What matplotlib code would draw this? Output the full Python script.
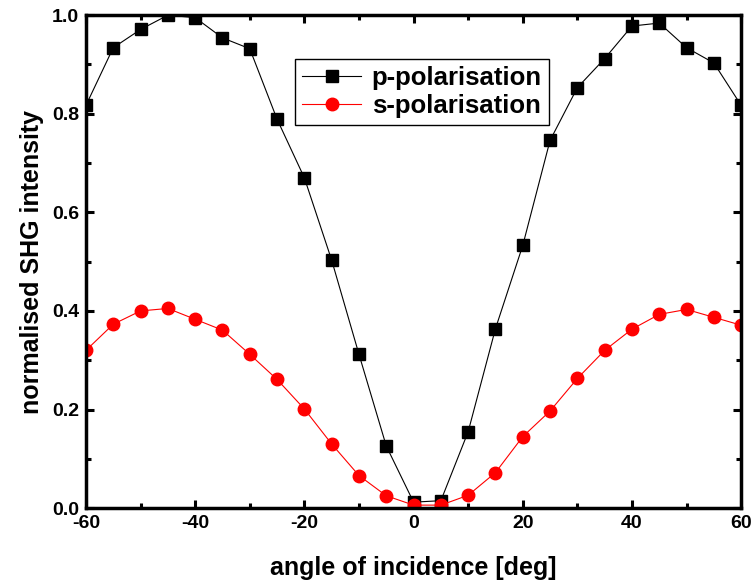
import matplotlib
matplotlib.use("Agg")
import matplotlib.pyplot as plt
from matplotlib.ticker import MultipleLocator

plt.rcParams['font.family'] = ['Liberation Sans', 'DejaVu Sans']
plt.rcParams['font.weight'] = 'bold'

# angle of incidence in degrees
angles = [-60, -55, -50, -45, -40, -35, -30, -25, -20, -15, -10, -5,
          0, 5, 10, 15, 20, 25, 30, 35, 40, 45, 50, 55, 60]

# normalised SHG intensity, p-polarised input
p_pol = [0.817, 0.934, 0.971, 1.000, 0.995, 0.954, 0.932, 0.789, 0.670, 0.503,
         0.312, 0.126, 0.012, 0.015, 0.155, 0.364, 0.533, 0.746, 0.853, 0.912,
         0.978, 0.984, 0.934, 0.903, 0.817]

# normalised SHG intensity, s-polarised input
s_pol = [0.320, 0.373, 0.400, 0.405, 0.383, 0.361, 0.312, 0.261, 0.201, 0.130,
         0.066, 0.025, 0.006, 0.006, 0.026, 0.072, 0.145, 0.197, 0.263, 0.320,
         0.363, 0.393, 0.403, 0.387, 0.371]

x_ticks = [-60, -40, -20, 0, 20, 40, 60]
y_ticks = [0.0, 0.2, 0.4, 0.6, 0.8, 1.0]

fig = plt.figure(figsize=(7.54, 5.84), dpi=100)
ax = fig.add_axes([0.114, 0.130, 0.869, 0.844])

ax.plot(angles, p_pol, color='black', lw=0.8, marker='s', markersize=8,
        markerfacecolor='black', markeredgecolor='black', label='p-polarisation')
ax.plot(angles, s_pol, color='red', lw=0.8, marker='o', markersize=9,
        markerfacecolor='red', markeredgecolor='red', label='s-polarisation')

ax.set_xlim(-60, 60)
ax.set_ylim(0.0, 1.0)
ax.set_xticks(x_ticks)
ax.set_yticks(y_ticks)
ax.set_xticklabels([str(v) for v in x_ticks])
ax.set_yticklabels([f"{v:.1f}" for v in y_ticks])
ax.xaxis.set_minor_locator(MultipleLocator(10))
ax.yaxis.set_minor_locator(MultipleLocator(0.1))

ax.tick_params(which='both', direction='in', top=True, right=True,
               labelsize=14, width=2.2, pad=5)
ax.tick_params(which='major', length=6)
ax.tick_params(which='minor', length=3.5)
for lab in ax.get_xticklabels() + ax.get_yticklabels():
    lab.set_fontweight('bold')
for sp in ax.spines.values():
    sp.set_linewidth(2.5)

ax.set_xlabel('angle of incidence [deg]', fontsize=18, fontweight='bold', labelpad=17)
ax.set_ylabel('normalised SHG intensity', fontsize=18, fontweight='bold', labelpad=6)

leg = ax.legend(loc='upper left', bbox_to_anchor=(0.319, 0.911), fontsize=18.5,
                frameon=True, fancybox=False, edgecolor='black', framealpha=1,
                handlelength=2.3, borderpad=0.28, labelspacing=0.15,
                handletextpad=0.4, borderaxespad=0)
leg.get_frame().set_linewidth(1.0)
for t in leg.get_texts():
    t.set_fontweight('bold')

fig.savefig('out.png', dpi=100)
